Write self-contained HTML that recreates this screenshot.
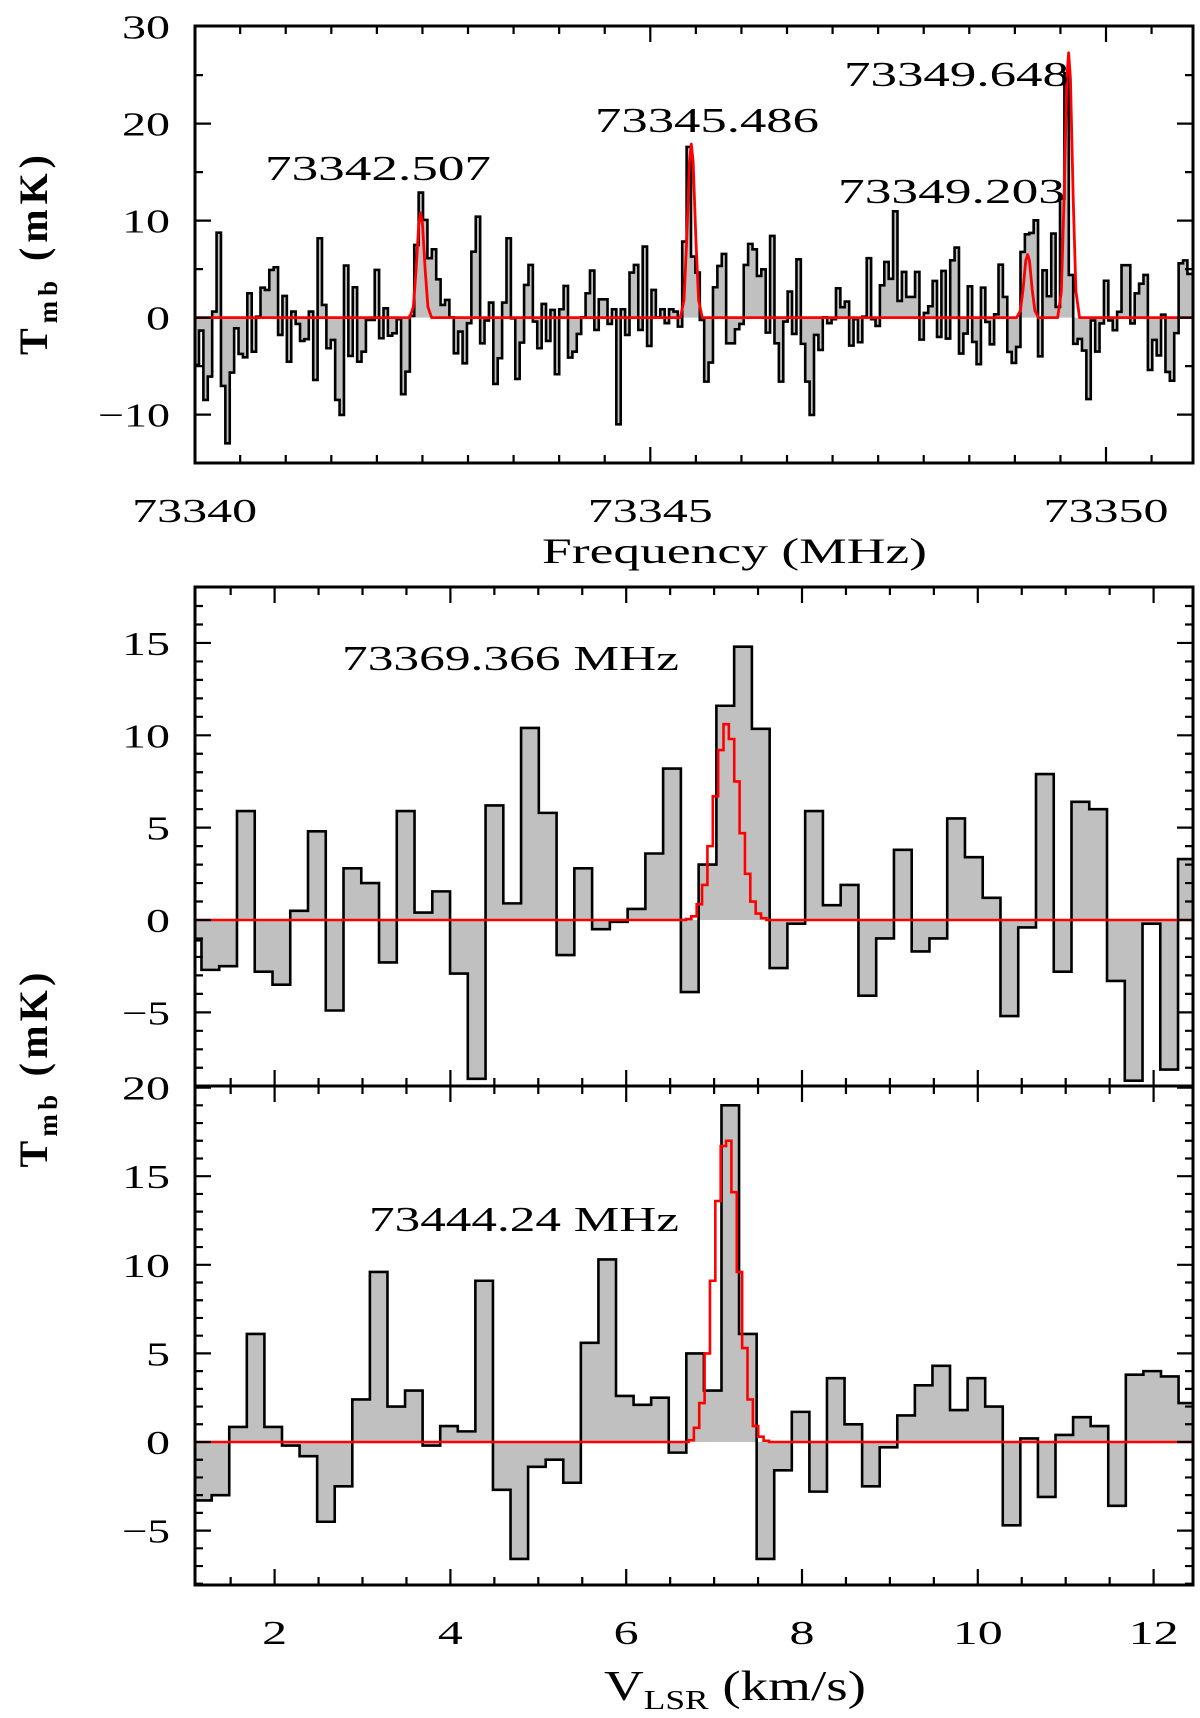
<!DOCTYPE html>
<html><head><meta charset="utf-8"><style>
html,body{margin:0;padding:0;background:#fff;}
svg{display:block;}
text{font-family:"Liberation Serif",serif;fill:#000;}
</style></head><body>
<svg id="chart" width="1200" height="1718" viewBox="0 0 1200 1718" xmlns="http://www.w3.org/2000/svg">
<defs>
<clipPath id="clipTop"><rect x="195" y="26" width="998" height="437"/></clipPath>
<clipPath id="clipMid"><rect x="195" y="587" width="998" height="499"/></clipPath>
<clipPath id="clipBot"><rect x="195" y="1086" width="998" height="499"/></clipPath>
</defs>
<g id="gTop"></g>
<g id="gMid"></g>
<g id="gBot"></g>
<g id="gAx">
<text transform="translate(47,255) rotate(-90)" text-anchor="middle" font-size="40" font-weight="bold" textLength="200" lengthAdjust="spacing">T<tspan font-size="27" dy="10">mb</tspan><tspan dy="-10">  (mK)</tspan></text>
<text transform="translate(47,1070) rotate(-90)" text-anchor="middle" font-size="40" font-weight="bold" textLength="195" lengthAdjust="spacing">T<tspan font-size="27" dy="10">mb</tspan><tspan dy="-10">  (mK)</tspan></text>
<text x="542" y="563" font-size="36" textLength="385" lengthAdjust="spacingAndGlyphs">Frequency (MHz)</text>
<text x="604" y="1700" font-size="42" textLength="262" lengthAdjust="spacingAndGlyphs">V<tspan font-size="27" dy="9">LSR</tspan><tspan dy="-9"> (km/s)</tspan></text>
<text x="265" y="180" font-size="35" textLength="226" lengthAdjust="spacingAndGlyphs">73342.507</text>
<text x="595" y="132" font-size="35" textLength="224" lengthAdjust="spacingAndGlyphs">73345.486</text>
<text x="844" y="86" font-size="35" textLength="225" lengthAdjust="spacingAndGlyphs">73349.648</text>
<text x="838" y="203" font-size="35" textLength="227" lengthAdjust="spacingAndGlyphs">73349.203</text>
<text x="342" y="670" font-size="35" textLength="337" lengthAdjust="spacingAndGlyphs">73369.366  MHz</text>
<text x="369" y="1231" font-size="35" textLength="310" lengthAdjust="spacingAndGlyphs">73444.24  MHz</text>
</g>
</svg>
<script>
// ---- top panel data (frequency spectrum) ----
const topStartFreq = 73340.0;
const topChanWidth = 0.0482;
const topSpectrum = [-4.88,-1.34,-8.49,-6.08,0.62,8.76,-7.04,-12.96,-5.67,-1.10,-3.75,-4.09,2.51,-3.51,0.10,3.09,2.85,4.91,5.19,-1.79,2.23,-4.54,0.62,-0.65,-2.41,-2.23,0.62,-6.43,8.18,1.31,-3.16,-2.30,-8.49,-10.03,5.36,-3.95,3.13,-4.54,-3.51,-0.24,-0.24,4.91,-2.13,0.96,-1.86,-1.62,-0.17,-7.90,-5.57,0.17,7.49,12.89,10.07,6.12,7.04,3.95,1.31,1.82,0.03,-3.68,-1.44,-4.71,-0.58,6.80,10.41,-2.65,-0.31,1.55,-6.84,-4.19,1.55,8.18,-0.07,-6.32,-2.58,3.37,5.43,-0.41,
-3.16,1.41,-2.41,0.79,-5.84,0.86,3.26,-4.12,-3.51,-1.68,0.03,2.51,4.85,-1.27,1.89,1.89,-0.65,0.86,-11.0,0.86,-1.79,4.64,5.43,-1.27,7.32,-2.92,2.85,0.03,0.86,-0.58,0.86,0.62,-0.93,7.84,17.6,6.29,4.64,-0.24,-6.60,-4.64,3.13,5.33,6.56,-2.65,-2.65,-1.20,-0.65,5.43,7.60,7.04,4.30,4.98,-1.55,8.42,-2.65,-6.60,-0.41,2.68,-1.68,6.01,-2.71,-6.60,-10.03,-1.79,-3.33,0.03,-0.58,-0.17,3.02,1.07,1.65,-2.89,-0.17,-2.54,0.10,6.12,-0.17,
-0.86,3.33,5.74,4.0,10.96,1.72,4.71,2.13,2.13,4.71,-2.27,0.48,1.17,3.78,-1.99,4.81,-2.16,5.91,7.22,-3.71,-1.65,3.23,-2.51,-4.81,3.09,-0.45,-2.75,0.34,5.46,2.13,-3.54,-4.67,-3.02,6.77,8.59,8.73,10.03,-3.99,4.88,2.20,8.66,1.10,12.27,25.2,4.4,-2.7,-2.2,-3.4,-8.4,-0.3,-3.5,-0.6,3.8,-0.3,-1.3,0.6,5.4,5.4,-0.6,2.5,3.5,4.4,-5.4,-2.3,-3.9,0.3,-5.6,-6.5,-1.6,5.6,5.9,4.5];
const topModelFreqs = [73340.0,73342.36,73342.40,73342.43,73342.46,73342.48,73342.50,73342.53,73342.56,73342.60,
 73345.33,73345.37,73345.40,73345.43,73345.45,73345.47,73345.50,73345.53,73345.57,
 73349.02,73349.06,73349.09,73349.12,73349.14,73349.16,73349.19,73349.22,73349.26,
 73349.47,73349.51,73349.54,73349.57,73349.59,73349.61,73349.64,73349.67,73349.71,73351.0];
const topModelValues = [0,0,1.1,4.9,9.7,10.8,9.7,4.9,1.1,0,
 0,1.8,8.1,16.1,17.9,16.1,8.1,1.8,0,
 0,0.7,2.9,5.9,6.5,5.9,2.9,0.7,0,
 0,2.7,12.3,24.6,27.3,24.6,12.3,2.7,0,0];
const topXTicks = [73340,73345,73350];
const topXTickLabels = ["73340","73345","73350"];
const topYTicks = [30,20,10,0,-10];
const topYTickLabels = ["30","20","10","0","\u221210"];

// ---- middle panel data (73369.366 MHz) ----
const midStartVel = 0.966;
const midChanWidth = 0.202;
const midSpectrum = [-1.1,-2.7,-2.5,5.9,-2.8,-3.5,0.5,4.8,-4.9,2.8,2.0,-2.3,5.9,0.4,1.55,-2.9,-8.6,6.2,0.9,10.4,5.8,-1.9,2.8,-0.5,-0.1,0.6,3.6,8.2,-3.9,3.0,11.6,14.8,10.35,-2.6,-0.2,5.9,0.8,1.9,-4.1,-1.0,3.8,-1.7,-1.0,5.5,3.4,1.2,-5.2,-0.4,7.9,-2.8,6.4,6.0,-3.3,-8.7,-0.2,-8.1,3.3,3.3];
const midModelStartVel = 6.68;
const midModelChanWidth = 0.061;
const midModel = [0.05,0.2,0.85,1.9,4.0,6.7,9.2,10.6,9.8,7.5,4.7,2.5,1.0,0.35,0.1];
const midYTicks = [15,10,5,0,-5];
const midYTickLabels = ["15","10","5","0","\u22125"];

// ---- bottom panel data (73444.24 MHz) ----
const botStartVel = 1.084;
const botChanWidth = 0.2;
const botSpectrum = [-3.3,-3.0,0.85,6.1,0.85,-0.2,-0.8,-4.5,-2.5,2.4,9.6,2.0,2.9,-0.2,0.9,0.6,9.1,-2.7,-6.6,-1.4,-1.0,-2.3,5.6,10.3,2.6,2.1,2.5,-0.6,5.0,2.9,19.0,6.1,-6.6,-1.6,1.7,-2.8,3.6,1.0,-2.5,-0.3,1.5,3.2,4.3,1.8,3.6,2.0,-4.7,0.2,-3.1,0.4,1.4,0.9,-3.6,3.8,4.0,3.7,2.2,2.0];
const botModelStartVel = 6.709;
const botModelChanWidth = 0.061;
const botModel = [0.1,0.8,2.2,5.0,9.1,13.6,16.7,17.0,14.1,9.6,5.3,2.4,0.9,0.3,0.07];
const botYTicks = [20,15,10,5,0,-5];
const botYTickLabels = ["20","15","10","5","0","\u22125"];
const velXTicks = [2,4,6,8,10,12];
const velXTickLabels = ["2","4","6","8","10","12"];

const NS = "http://www.w3.org/2000/svg";
const L = 195, R = 1193;
function xF(f){ return 194.6 + (f - 73340) * 91.14; }
function yT(v){ return 317.6 - v * 9.7; }
function xV(v){ return 274.6 + (v - 2) * 87.9; }
function yM(v){ return 920 - v * 18.47; }
function yB(v){ return 1442 - v * 17.72; }

function mk(tag, attrs, parent){
  const e = document.createElementNS(NS, tag);
  for (const k in attrs) e.setAttribute(k, attrs[k]);
  parent.appendChild(e);
  return e;
}

function drawHist(g, start, w, vals, xf, yf, clip, name){
  let d = "";
  const y0 = yf(0);
  let fill = "M" + xf(start) + "," + y0;
  for (let i = 0; i < vals.length; i++){
    const x1 = xf(start + i * w), x2 = xf(start + (i + 1) * w), y = yf(vals[i]);
    d += (i === 0 ? "M" : "L") + x1 + "," + y + "L" + x2 + "," + y;
    fill += "L" + x1 + "," + y + "L" + x2 + "," + y;
  }
  fill += "L" + xf(start + vals.length * w) + "," + y0 + "Z";
  const f = mk("path", {d: fill, fill: "#c0c0c0", stroke: "none", "clip-path": "url(#" + clip + ")"}, g);
  
  
  const p = mk("path", {d: d, fill: "none", stroke: "#000", "stroke-width": "2.6", "stroke-linejoin": "miter", "clip-path": "url(#" + clip + ")"}, g);
  
  
}

function drawModelSteps(g, start, w, vals, xf, yf, clip, name){
  let d = "M" + L + "," + yf(0) + "L" + xf(start) + "," + yf(0);
  for (let i = 0; i < vals.length; i++){
    const x1 = xf(start + i * w), x2 = xf(start + (i + 1) * w), y = yf(vals[i]);
    d += "L" + x1 + "," + y + "L" + x2 + "," + y;
  }
  d += "L" + xf(start + vals.length * w) + "," + yf(0) + "L" + R + "," + yf(0);
  const p = mk("path", {d: d, fill: "none", stroke: "#ff0000", "stroke-width": "2.6", "clip-path": "url(#" + clip + ")"}, g);
  
  
}

function frame(g, top, bot, name){
  const r = mk("rect", {x: L, y: top, width: R - L, height: bot - top, fill: "none", stroke: "#000", "stroke-width": "3"}, g);
  
  
}
function xTicks(g, top, bot, vmin, vmax, step, majorEvery, xf){
  let d = "";
  const n = Math.round((vmax - vmin) / step);
  for (let i = 0; i <= n; i++){
    const v = vmin + i * step, x = xf(v);
    if (x < L + 1 || x > R - 1) continue;
    const major = Math.abs(v / majorEvery - Math.round(v / majorEvery)) < 1e-6;
    const len = major ? 16 : 8;
    d += "M" + x + "," + bot + "v" + (-len) + "M" + x + "," + top + "v" + len;
  }
  const p = mk("path", {d: d, stroke: "#000", "stroke-width": "2.2"}, g);
  
  
}
function yTicks(g, top, bot, vmin, vmax, step, majorEvery, yf){
  let d = "";
  const n = Math.round((vmax - vmin) / step);
  for (let i = 0; i <= n; i++){
    const v = vmin + i * step, y = yf(v);
    if (y < top + 1 || y > bot - 1) continue;
    const major = Math.abs(v / majorEvery - Math.round(v / majorEvery)) < 1e-6;
    const len = major ? 16 : 8;
    d += "M" + L + "," + y + "h" + len + "M" + R + "," + y + "h" + (-len);
  }
  const p = mk("path", {d: d, stroke: "#000", "stroke-width": "2.2"}, g);
  
  
}
function yLabels(g, ticks, labels, yf){
  for (let i = 0; i < ticks.length; i++){
    const t = mk("text", {x: 170, y: yf(ticks[i]) + 12, "text-anchor": "end", "font-size": "34", textLength: 24 * labels[i].length, lengthAdjust: "spacingAndGlyphs"}, g);
    
    
    t.textContent = labels[i];
  }
}
function xLabels(g, ticks, labels, xf, y){
  for (let i = 0; i < ticks.length; i++){
    const t = mk("text", {x: xf(ticks[i]), y: y, "text-anchor": "middle", "font-size": "34", textLength: 25 * labels[i].length, lengthAdjust: "spacingAndGlyphs"}, g);
    
    
    t.textContent = labels[i];
  }
}

// Top panel
const gT = document.getElementById("gTop");
drawHist(gT, topStartFreq, topChanWidth, topSpectrum, xF, yT, "clipTop", "top");
{
  let d = "";
  for (let i = 0; i < topModelFreqs.length; i++) d += (i ? "L" : "M") + xF(topModelFreqs[i]) + "," + yT(topModelValues[i]);
  const p = mk("path", {d: d, fill: "none", stroke: "#ff0000", "stroke-width": "2.8", "stroke-linejoin": "round", "clip-path": "url(#clipTop)"}, gT);
  
  
}
frame(gT, 26, 463, "top");
xTicks(gT, 26, 463, 73340, 73351, 0.5, 5, xF);
yTicks(gT, 26, 463, -15, 30, 5, 10, yT);
yLabels(gT, topYTicks, topYTickLabels, yT);
xLabels(gT, topXTicks, topXTickLabels, xF, 522);

// Middle panel
const gM = document.getElementById("gMid");
drawHist(gM, midStartVel, midChanWidth, midSpectrum, xV, yM, "clipMid", "middle");
drawModelSteps(gM, midModelStartVel, midModelChanWidth, midModel, xV, yM, "clipMid", "middle");
frame(gM, 587, 1086, "middle");
xTicks(gM, 587, 1086, 1, 12.5, 0.5, 2, xV);
yTicks(gM, 587, 1086, -9, 18, 1, 5, yM);
yLabels(gM, midYTicks, midYTickLabels, yM);

// Bottom panel
const gB = document.getElementById("gBot");
drawHist(gB, botStartVel, botChanWidth, botSpectrum, xV, yB, "clipBot", "bottom");
drawModelSteps(gB, botModelStartVel, botModelChanWidth, botModel, xV, yB, "clipBot", "bottom");
frame(gB, 1086, 1585, "bottom");
xTicks(gB, 1086, 1585, 1, 12.5, 0.5, 2, xV);
yTicks(gB, 1086, 1585, -8, 20, 1, 5, yB);
yLabels(gB, botYTicks, botYTickLabels, yB);
xLabels(gB, velXTicks, velXTickLabels, xV, 1644);
</script>
</body></html>
